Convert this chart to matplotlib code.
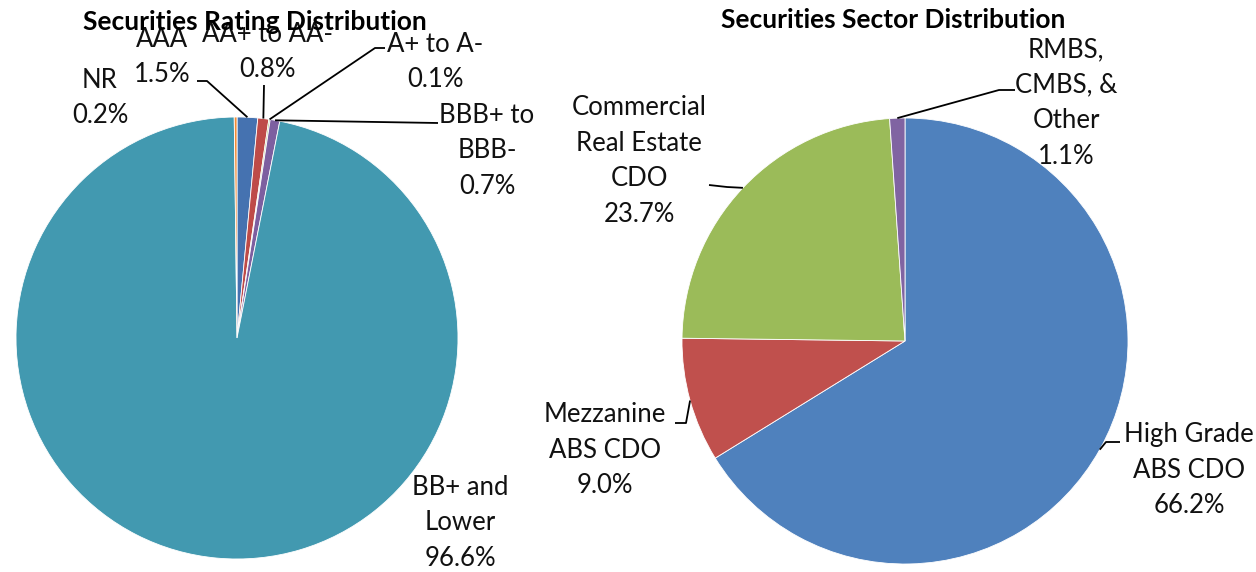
import numpy as np
import matplotlib.pyplot as plt

# data
rating_labels = ['AAA', 'AA+ to AA-', 'A+ to A-', 'BBB+ to\nBBB-', 'BB+ and\nLower', 'NR']
rating_pct = [1.5, 0.8, 0.1, 0.7, 96.6, 0.2]
rating_colors = ['#4572B0', '#BE4B48', '#98B954', '#7D5FA0', '#4299B0', '#F28B35']

sector_labels = ['High Grade\nABS CDO', 'Mezzanine\nABS CDO', 'Commercial\nReal Estate\nCDO', 'RMBS,\nCMBS, &\nOther']
sector_pct = [66.2, 9.0, 23.7, 1.1]
sector_colors = ['#4F81BD', '#C0504D', '#9BBB59', '#8064A2']

plt.rcParams['font.family'] = ['Lato', 'DejaVu Sans']
H = 572

fig = plt.figure(figsize=(12.56, 5.72), dpi=100)
ax = fig.add_axes([0, 0, 1, 1])
ax.set_xlim(0, 1256)
ax.set_ylim(0, H)
ax.set_aspect('equal')
ax.axis('off')

def draw_pie(vals, cols, labels, center, radius, label_pos, leaders, title, title_pos):
	wedges, _ = ax.pie(vals, colors=cols, startangle=90, counterclock=False,
		center=center, radius=radius, frame=True,
		wedgeprops={'linewidth': 0.6, 'edgecolor': 'white'})
	for i, w in enumerate(wedges):
		lab = labels[i] + '\n' + '%.1f%%' % vals[i]
		tx, ty = label_pos[i]
		ax.text(tx, H - ty, lab, ha='center', va='center', fontsize=18.5,
			linespacing=1.53, color='#111111')
		if leaders[i] is not None:
			ang = np.deg2rad((w.theta1 + w.theta2) / 2)
			pts = [(center[0] + radius * np.cos(ang), center[1] + radius * np.sin(ang))]
			pts += [(px, H - py) for px, py in leaders[i]]
			xs, ys = zip(*pts)
			ax.plot(xs, ys, color='black', lw=1.3, solid_capstyle='butt')
	ax.text(title_pos[0], H - title_pos[1], title, ha='center', va='center',
		fontsize=19, fontweight='bold')

# left pie: rating
draw_pie(rating_pct, rating_colors, rating_labels, (237, H - 338), 221,
	[(162, 57), (268, 52), (435, 62), (487, 151), (460, 523), (100, 98)],
	[[(207, 81), (197, 81)], [(264, 85)], [(375, 48), (385, 48)], [(438, 123)], None, None],
	'Securities Rating Distribution', (255, 22))

# right pie: sector
draw_pie(sector_pct, sector_colors, sector_labels, (905, H - 341), 223,
	[(1189, 470), (605, 450), (639, 161), (1066, 103)],
	[[(1106, 442), (1120, 442)], [(686, 423), (675, 423)], [(727, 187), (709, 185)], [(999, 90), (1015, 90)]],
	'Securities Sector Distribution', (893, 20))

ax.set_xlim(0, 1256)
ax.set_ylim(0, H)
ax.axis('off')
plt.savefig('out.png', dpi=100)
